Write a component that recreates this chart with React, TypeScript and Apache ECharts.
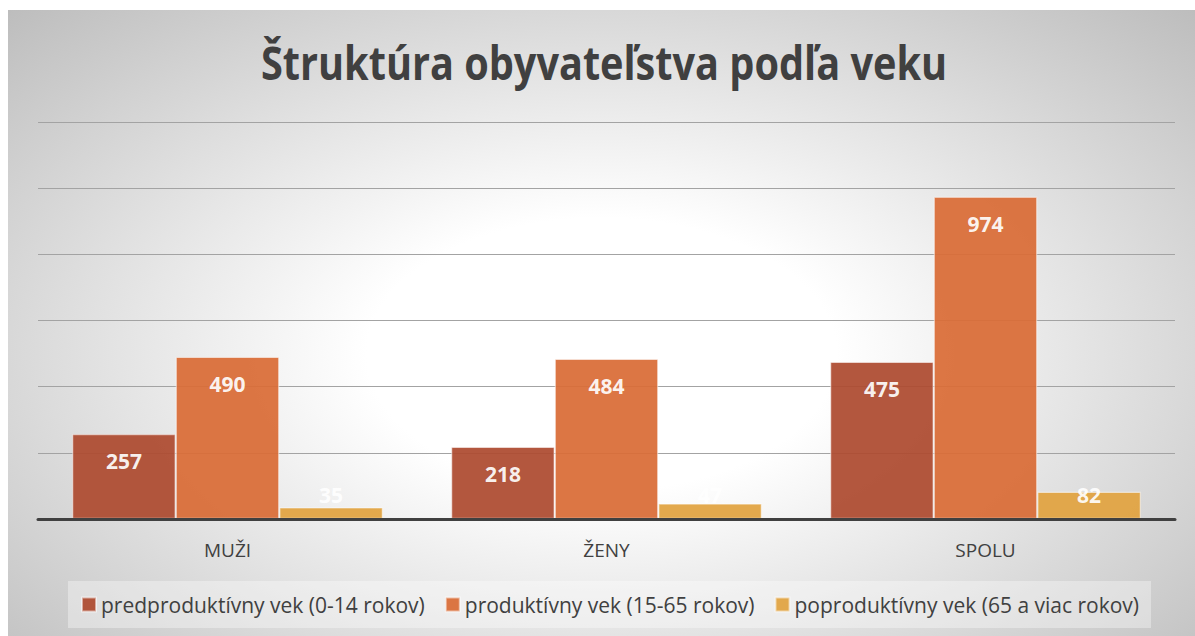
import React, { useEffect, useRef } from "react";
import * as echarts from "echarts";

const categories = ["MUŽI", "ŽENY", "SPOLU"];
const seriesNames = [
  "predproduktívny vek (0-14 rokov)",
  "produktívny vek (15-65 rokov)",
  "poproduktívny vek (65 a viac rokov)",
];
const preproductive = [257, 218, 475];
const productive = [490, 484, 974];
const postproductive = [35, 47, 82];
const yMin = 0;
const yMax = 1200;
const yInterval = 200;
const titleText = "Štruktúra obyvateľstva podľa veku";

const colors = ["#AD4A2F", "#D96C36", "#E1A23F"];

export default function App() {
  const ref = useRef<HTMLDivElement>(null);
  useEffect(() => {
    if (!ref.current) return;
    const chart = echarts.init(ref.current, null, { renderer: "svg" });
    const font = "'Open Sans', 'DejaVu Sans', sans-serif";
    const mkData = (vals: number[]) =>
      vals.map((v) => {
        const short = v < 120;
        return {
          value: v,
          label: short
            ? { position: "insideBottom", distance: 14 }
            : { position: "insideTop", distance: 17 },
        };
      });
    const allSeries = [preproductive, productive, postproductive].map((vals, i) => ({
      type: "bar",
      name: seriesNames[i],
      data: mkData(vals),
      barGap: "0%",
      barCategoryGap: "18%",
      itemStyle: {
        color: colors[i],
        opacity: 0.93,
        borderColor: "rgba(255,255,255,0.55)",
        borderWidth: 1.2,
      },
      label: {
        show: true,
        color: "#ffffff",
        fontFamily: font,
        fontWeight: "bold",
        fontSize: 21,
      },
    }));
    chart.setOption({
      animation: false,
      backgroundColor: "transparent",
      color: colors,
      graphic: [
        {
          type: "text",
          x: 596,
          y: 52,
          scaleX: 0.862,
          style: {
            text: titleText,
            fill: "#404040",
            font: "bold 46px 'Open Sans', sans-serif",
            textAlign: "center",
            textVerticalAlign: "middle",
          },
        },
      ],
      grid: { left: 30, right: 20, top: 112, bottom: 117, containLabel: false },
      xAxis: {
        type: "category",
        data: categories,
        z: 3,
        axisLine: { show: true, lineStyle: { color: "#404040", width: 3 } },
        axisTick: { show: false },
        axisLabel: {
          color: "#404040",
          fontFamily: font,
          fontSize: 19,
          margin: 21,
        },
      },
      yAxis: {
        type: "value",
        min: yMin,
        max: yMax,
        interval: yInterval,
        axisLine: { show: false },
        axisTick: { show: false },
        axisLabel: { show: false },
        splitLine: { show: true, lineStyle: { color: "#a3a3a3", width: 1 } },
      },
      legend: {
        show: true,
        left: 60,
        top: 571,
        backgroundColor: "rgba(255,255,255,0.35)",
        padding: [13, 12, 13, 13],
        itemWidth: 14,
        itemHeight: 14,
        itemGap: 20,
        icon: "rect",
        textStyle: { color: "#404040", fontFamily: font, fontSize: 21 },
      },
      series: allSeries,
    });
    return () => chart.dispose();
  }, []);
  return (
    <div
      ref={ref}
      style={{
        position: "absolute",
        left: 8,
        top: 10,
        width: 1187,
        height: 626,
        background:
          "radial-gradient(ellipse farthest-corner at 50% 55%, #ffffff 0%, #ffffff 28%, #bdbdbd 100%)",
      }}
    />
  );
}
